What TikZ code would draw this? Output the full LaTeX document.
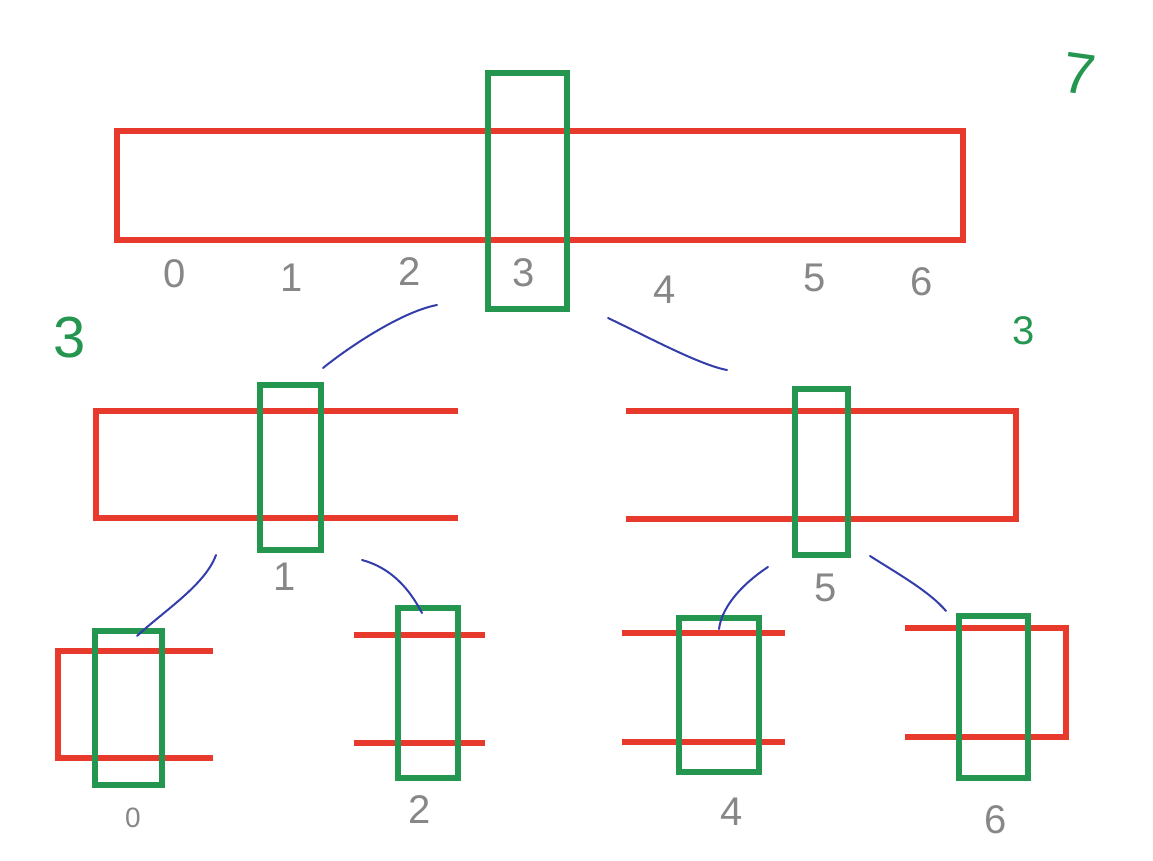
\documentclass[tikz,border=0pt]{standalone}
\usepackage{fontspec}
\setmainfont{Liberation Sans}
\begin{document}
\begin{tikzpicture}[x=1pt,y=-1pt,
  redline/.style={draw=myred,line width=6pt,line cap=butt,line join=miter},
  greenbox/.style={draw=mygreen,line width=6pt},
  blueline/.style={draw=myblue,line width=2pt,line cap=round},
  digit/.style={text=mygray,font=\fontsize{40}{40}\selectfont,inner sep=0pt},
  gdigit/.style={text=mygreen,font=\fontsize{58}{58}\selectfont,inner sep=0pt}]
\definecolor{myred}{RGB}{232,58,44}
\definecolor{mygreen}{RGB}{36,150,80}
\definecolor{myblue}{RGB}{52,62,170}
\definecolor{mygray}{RGB}{135,135,135}
\useasboundingbox (0,0) rectangle (1153,861);
\fill[white] (0,0) rectangle (1153,861);
% top level
\draw[redline] (117,131) rectangle (963,240);
\draw[greenbox] (488,73) rectangle (567,309);
\node[digit] (t0) at (175,274) {0};
\node[digit] (t1) at (292,278) {1};
\node[digit] (t2) at (410,272) {2};
\node[digit] (t3) at (524,273) {3};
\node[digit] (t4) at (665,290) {4};
\node[digit] (t5) at (815,278) {5};
\node[digit] (t6) at (922,282) {6};
\node[gdigit,rotate=-8] (g7) at (1079,74) {7};
\node[gdigit] (g3a) at (70,338) {3};
\node[digit,text=mygreen] (g3b) at (1024,331) {3};
% middle left
\draw[redline] (458,411) -- (96,411) -- (96,518) -- (458,518);
\draw[greenbox] (260,385) rectangle (321,550);
\node[digit] (m1) at (285,577) {1};
% middle right
\draw[redline] (626,411) -- (1016,411) -- (1016,519) -- (626,519);
\draw[greenbox] (795,389) rectangle (848,555);
\node[digit] (m5) at (826,588) {5};
% bottom
\draw[redline] (213,651) -- (58,651) -- (58,758) -- (213,758);
\draw[greenbox] (95,631) rectangle (162,785);
\node[digit,font=\fontsize{28}{28}\selectfont] (b0) at (133,818) {0};
\draw[redline] (354,635) -- (485,635);
\draw[redline] (354,743) -- (485,743);
\draw[greenbox] (398,608) rectangle (458,778);
\node[digit] (b2) at (420,810) {2};
\draw[redline] (622,633) -- (785,633);
\draw[redline] (622,742) -- (785,742);
\draw[greenbox] (679,618) rectangle (759,772);
\node[digit] (b4) at (732,812) {4};
\draw[redline] (905,628) -- (1066,628) -- (1066,737) -- (905,737);
\draw[greenbox] (959,616) rectangle (1028,778);
\node[digit] (b6) at (996,820) {6};
% connectors
\coordinate (a1) at (437,305); \coordinate (a2) at (323,368);
\coordinate (a3) at (608,318); \coordinate (a4) at (727,370);
\coordinate (c1) at (216,555); \coordinate (c2) at (137,636);
\coordinate (c3) at (362,560); \coordinate (c4) at (422,613);
\coordinate (c5) at (768,567); \coordinate (c6) at (719,629);
\coordinate (c7) at (870,556); \coordinate (c8) at (946,611);
\draw[blueline] (a1) .. controls (400,312) and (345,350) .. (a2);
\draw[blueline] (a3) .. controls (650,338) and (700,365) .. (a4);
\draw[blueline] (c1) .. controls (205,585) and (165,610) .. (c2);
\draw[blueline] (c3) .. controls (392,568) and (410,590) .. (c4);
\draw[blueline] (c5) .. controls (745,582) and (722,605) .. (c6);
\draw[blueline] (c7) .. controls (900,575) and (930,592) .. (c8);
\end{tikzpicture}
\end{document}
